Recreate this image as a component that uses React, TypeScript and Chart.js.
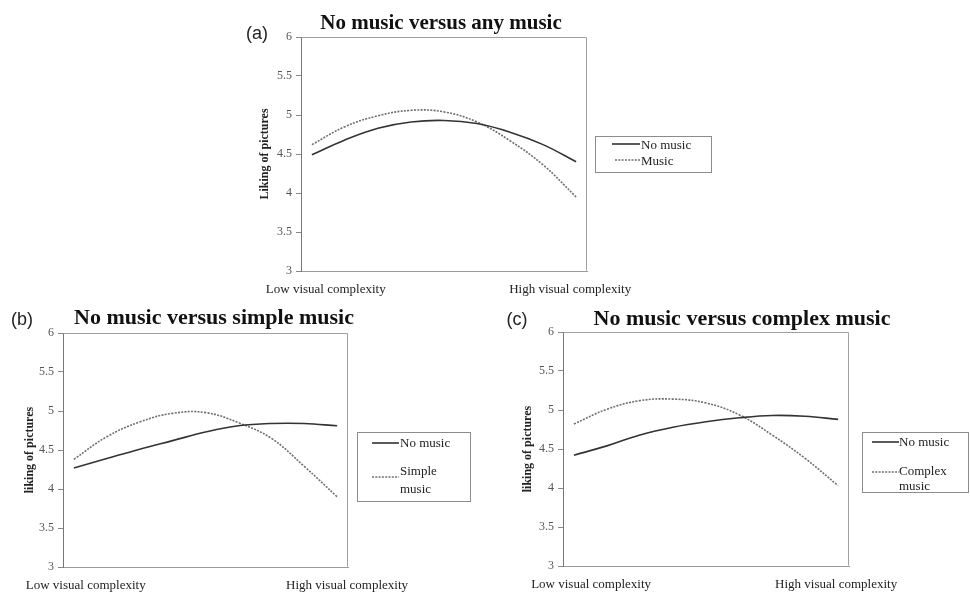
import React, { useEffect, useRef } from 'react';
import { Chart, registerables } from 'chart.js';

Chart.register(...registerables);

// ---------- data ----------
const complexityLevels = [0, 1, 2, 3, 4, 5, 6, 7, 8];
const xTickLabels = ['Low visual complexity', 'High visual complexity'];
const yTickValues = [3, 3.5, 4, 4.5, 5, 5.5, 6];

const noMusicA = [4.49, 4.68, 4.83, 4.91, 4.93, 4.89, 4.78, 4.62, 4.4];
const musicA = [4.62, 4.85, 4.99, 5.06, 5.04, 4.91, 4.67, 4.36, 3.95];
const noMusicB = [4.27, 4.39, 4.51, 4.62, 4.73, 4.81, 4.84, 4.84, 4.81];
const simpleMusicB = [4.38, 4.67, 4.86, 4.97, 4.98, 4.85, 4.65, 4.29, 3.9];
const noMusicC = [4.42, 4.54, 4.68, 4.78, 4.85, 4.9, 4.93, 4.92, 4.88];
const complexMusicC = [4.82, 5.01, 5.12, 5.14, 5.09, 4.94, 4.68, 4.38, 4.03];

const SERIF = '"Liberation Serif", "Times New Roman", Times, serif';
const SANS = '"Liberation Sans", Arial, Helvetica, sans-serif';
const SOLID_COLOR = '#333333';
const DASH_COLOR = '#6e6e6e';
const DASH = [2, 1.3];

type Series = { label: string; data: number[]; dashed: boolean };
type Panel = {
  tag: string;
  title: string;
  titleSize: number;
  titleCenter: number;
  titleTop: number;
  tagCenter: number;
  tagTop: number;
  yTitle: string;
  series: Series[];
  canvas: { left: number; top: number; width: number; height: number };
  padding: { left: number; right: number; top: number; bottom: number };
  yAxisWidth: number;
  xAxisHeight: number;
  yTitleOffset: number;
  xLabelAt: number[];
  legend: {
    box: { left: number; top: number; width: number; height: number };
    rows: { lineLeft: number; lineWidth: number; lineY: number; textLeft: number; textTop: number; textWidth: number; lineHeight: number }[];
  };
};

const panels: Panel[] = [
  {
    tag: '(a)',
    title: 'No music versus any music',
    titleSize: 21,
    titleCenter: 441,
    titleTop: 12,
    tagCenter: 257,
    tagTop: 24,
    yTitle: 'Liking of pictures',
    series: [
      { label: 'No music', data: noMusicA, dashed: false },
      { label: 'Music', data: musicA, dashed: true },
    ],
    canvas: { left: 230, top: 20, width: 420, height: 290 },
    padding: { left: 21, right: 63, top: 17, bottom: 9 },
    yAxisWidth: 50,
    xAxisHeight: 30,
    yTitleOffset: 6.8,
    xLabelAt: [0.42, 7.82],
    legend: {
      box: { left: 595, top: 136, width: 117, height: 37 },
      rows: [
        { lineLeft: 612, lineWidth: 28, lineY: 144, textLeft: 641, textTop: 138, textWidth: 70, lineHeight: 13 },
        { lineLeft: 615, lineWidth: 25, lineY: 160, textLeft: 641, textTop: 154, textWidth: 70, lineHeight: 13 },
      ],
    },
  },
  {
    tag: '(b)',
    title: 'No music versus simple music',
    titleSize: 22,
    titleCenter: 214,
    titleTop: 306,
    tagCenter: 22,
    tagTop: 310,
    yTitle: 'liking of pictures',
    series: [
      { label: 'No music', data: noMusicB, dashed: false },
      { label: 'Simple music', data: simpleMusicB, dashed: true },
    ],
    canvas: { left: 0, top: 310, width: 420, height: 282 },
    padding: { left: 13, right: 72, top: 23, bottom: 0 },
    yAxisWidth: 50,
    xAxisHeight: 25,
    yTitleOffset: 9.8,
    xLabelAt: [0.36, 8.3],
    legend: {
      box: { left: 357, top: 432, width: 114, height: 70 },
      rows: [
        { lineLeft: 372, lineWidth: 27, lineY: 443, textLeft: 400, textTop: 436, textWidth: 68, lineHeight: 13 },
        { lineLeft: 372, lineWidth: 27, lineY: 477, textLeft: 400, textTop: 462, textWidth: 56, lineHeight: 18 },
      ],
    },
  },
  {
    tag: '(c)',
    title: 'No music versus complex music',
    titleSize: 22,
    titleCenter: 742,
    titleTop: 307,
    tagCenter: 517,
    tagTop: 310,
    yTitle: 'liking of pictures',
    series: [
      { label: 'No music', data: noMusicC, dashed: false },
      { label: 'Complex music', data: complexMusicC, dashed: true },
    ],
    canvas: { left: 510, top: 310, width: 400, height: 282 },
    padding: { left: 3, right: 61, top: 22, bottom: 0 },
    yAxisWidth: 50,
    xAxisHeight: 26,
    yTitleOffset: 7.8,
    xLabelAt: [0.52, 7.94],
    legend: {
      box: { left: 862, top: 432, width: 107, height: 61 },
      rows: [
        { lineLeft: 872, lineWidth: 27, lineY: 442, textLeft: 899, textTop: 435, textWidth: 68, lineHeight: 13 },
        { lineLeft: 872, lineWidth: 27, lineY: 472, textLeft: 899, textTop: 463, textWidth: 62, lineHeight: 15 },
      ],
    },
  },
];

const framePlugin = {
  id: 'frame',
  beforeDatasetsDraw(chart: any) {
    const { ctx, chartArea: a } = chart;
    ctx.save();
    ctx.strokeStyle = '#a0a0a0';
    ctx.lineWidth = 1;
    const l = Math.round(a.left) + 0.5;
    const r = Math.round(a.right) - 0.5;
    const t = Math.round(a.top) + 0.5;
    const b = Math.round(a.bottom) - 0.5;
    ctx.beginPath();
    ctx.moveTo(l, t);
    ctx.lineTo(r, t);
    ctx.lineTo(r, b);
    ctx.stroke();
    ctx.restore();
  },
};

function PanelChart({ panel }: { panel: Panel }) {
  const ref = useRef<HTMLCanvasElement | null>(null);
  useEffect(() => {
    if (!ref.current) return;
    const chart = new Chart(ref.current, {
      type: 'line',
      data: {
        datasets: panel.series.map((s) => ({
          label: s.label,
          data: complexityLevels.map((x, i) => ({ x, y: s.data[i] })),
          borderColor: s.dashed ? DASH_COLOR : SOLID_COLOR,
          borderWidth: 1.6,
          borderDash: s.dashed ? DASH : [],
          pointRadius: 0,
          tension: 0.4,
          fill: false,
        })),
      },
      options: {
        animation: false,
        responsive: false,
        maintainAspectRatio: false,
        layout: { padding: panel.padding },
        plugins: {
          legend: { display: false },
          title: { display: false },
          tooltip: { enabled: false },
        },
        scales: {
          x: {
            type: 'linear',
            min: -0.33,
            max: 8.33,
            grid: { display: false, drawTicks: false },
            border: { display: true, color: '#999999' },
            afterBuildTicks: (s: any) => {
              s.ticks = panel.xLabelAt.map((v) => ({ value: v }));
            },
            afterFit: (s: any) => {
              s.height = panel.xAxisHeight;
              s.paddingLeft = 0;
              s.paddingRight = 0;
            },
            ticks: {
              autoSkip: false,
              maxRotation: 0,
              minRotation: 0,
              padding: 11,
              color: '#222222',
              font: { family: SERIF, size: 13 },
              callback: (_v: any, i: number) => xTickLabels[i],
            },
          },
          y: {
            min: 3,
            max: 6,
            afterBuildTicks: (s: any) => {
              s.ticks = yTickValues.map((v) => ({ value: v }));
            },
            afterFit: (s: any) => {
              s.width = panel.yAxisWidth;
            },
            grid: { display: true, drawOnChartArea: false, drawTicks: true, tickLength: 5, color: '#888888' },
            border: { display: true, color: '#777777' },
            ticks: {
              padding: 4,
              color: '#555555',
              font: { family: SERIF, size: 12 },
              callback: (v: any) => String(v),
            },
            title: {
              display: true,
              text: panel.yTitle,
              color: '#222222',
              font: { family: SERIF, size: 12, weight: 'bold' },
              padding: { top: panel.yTitleOffset, bottom: 0 },
            },
          },
        },
      } as any,
      plugins: [framePlugin],
    });
    return () => chart.destroy();
  }, [panel]);
  const c = panel.canvas;
  return (
    <canvas
      ref={ref}
      width={c.width}
      height={c.height}
      style={{ position: 'absolute', left: c.left, top: c.top, width: c.width, height: c.height }}
    />
  );
}

function LegendSample({ dashed, width }: { dashed: boolean; width: number }) {
  return (
    <svg width={width} height={4} style={{ display: 'block' }}>
      <line
        x1={0}
        y1={2}
        x2={width}
        y2={2}
        stroke={dashed ? DASH_COLOR : SOLID_COLOR}
        strokeWidth={1.6}
        strokeDasharray={dashed ? DASH.join(' ') : undefined}
      />
    </svg>
  );
}

function PanelOverlay({ panel }: { panel: Panel }) {
  const lg = panel.legend;
  return (
    <>
      <div
        style={{
          position: 'absolute',
          left: panel.titleCenter - 220,
          width: 440,
          top: panel.titleTop,
          textAlign: 'center',
          fontFamily: SERIF,
          fontWeight: 'bold',
          fontSize: panel.titleSize,
          lineHeight: `${panel.titleSize}px`,
          color: '#111111',
          whiteSpace: 'nowrap',
        }}
      >
        {panel.title}
      </div>
      <div
        style={{
          position: 'absolute',
          left: panel.tagCenter - 20,
          width: 40,
          top: panel.tagTop,
          textAlign: 'center',
          fontFamily: SANS,
          fontSize: 18,
          lineHeight: '18px',
          color: '#222222',
        }}
      >
        {panel.tag}
      </div>
      <div
        style={{
          position: 'absolute',
          left: lg.box.left,
          top: lg.box.top,
          width: lg.box.width,
          height: lg.box.height,
          boxSizing: 'border-box',
          border: '1px solid #8c8c8c',
        }}
      />
      {panel.series.map((s, i) => {
        const r = lg.rows[i];
        return (
          <React.Fragment key={s.label}>
            <div style={{ position: 'absolute', left: r.lineLeft, top: r.lineY - 2 }}>
              <LegendSample dashed={s.dashed} width={r.lineWidth} />
            </div>
            <div
              style={{
                position: 'absolute',
                left: r.textLeft,
                top: r.textTop,
                width: r.textWidth,
                fontFamily: SERIF,
                fontSize: 13,
                lineHeight: `${r.lineHeight}px`,
                color: '#222222',
              }}
            >
              {s.label}
            </div>
          </React.Fragment>
        );
      })}
    </>
  );
}

export default function App() {
  return (
    <div style={{ position: 'absolute', left: 0, top: 0, width: 970, height: 592, background: '#ffffff', overflow: 'hidden' }}>
      {panels.map((p) => (
        <PanelChart key={p.tag} panel={p} />
      ))}
      {panels.map((p) => (
        <PanelOverlay key={'o' + p.tag} panel={p} />
      ))}
    </div>
  );
}
